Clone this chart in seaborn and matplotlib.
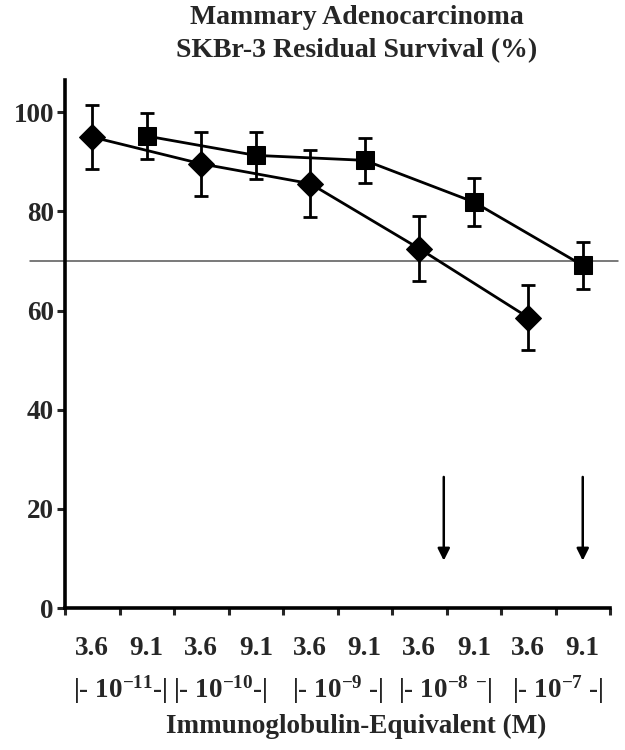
import numpy as np
import pandas as pd
import seaborn as sns
import matplotlib
matplotlib.use("Agg")
import matplotlib.pyplot as plt
import matplotlib.transforms as mtransforms

# values
conc_labels = ["3.6", "9.1", "3.6", "9.1", "3.6", "9.1", "3.6", "9.1", "3.6", "9.1"]
decade_labels = ["|- 10$^{-11}$-|", "|- 10$^{-10}$-|", "|- 10$^{-9}$ -|",
                 "|- 10$^{-8}$ $^{-}$|", "|- 10$^{-7}$ -|"]
decade_pos = [0.51, 2.35, 4.5, 6.48, 8.55]

diamond_pos = [0, 2, 4, 6, 8]
diamond_vals = [95.0, 89.6, 85.6, 72.5, 58.6]
diamond_err = [6.4, 6.5, 6.7, 6.6, 6.5]

square_pos = [1, 3, 5, 7, 9]
square_vals = [95.2, 91.3, 90.3, 81.9, 69.1]
square_err = [4.6, 4.8, 4.6, 4.9, 4.7]

threshold = 70
arrow_x = [6.45, 9.0]
arrow_top, arrow_tip = 27.0, 9.0

sns.set_style("white")
plt.rcParams["font.family"] = ["Liberation Serif", "DejaVu Serif"]
plt.rcParams["font.weight"] = "bold"
plt.rcParams["mathtext.fontset"] = "custom"
plt.rcParams["mathtext.rm"] = "Liberation Serif:bold"
plt.rcParams["mathtext.it"] = "Liberation Serif:bold"
plt.rcParams["mathtext.bf"] = "Liberation Serif:bold"
plt.rcParams["mathtext.default"] = "rm"

fig = plt.figure(figsize=(6.25, 7.5), dpi=100)
ax = fig.add_axes([0.104, 0.1893, 0.872, 0.704])

df_d = pd.DataFrame({"x": diamond_pos, "y": diamond_vals})
df_s = pd.DataFrame({"x": square_pos, "y": square_vals})

ax.errorbar(diamond_pos, diamond_vals, yerr=diamond_err, fmt="none", ecolor="black",
            elinewidth=2.0, capsize=5, capthick=2.0, zorder=2)
ax.errorbar(square_pos, square_vals, yerr=square_err, fmt="none", ecolor="black",
            elinewidth=2.0, capsize=5, capthick=2.0, zorder=2)
sns.lineplot(data=df_d, x="x", y="y", marker="D", markersize=13, color="black",
             linewidth=2.0, markeredgecolor="black", ax=ax, zorder=3)
sns.lineplot(data=df_s, x="x", y="y", marker="s", markersize=13.5, color="black",
             linewidth=2.0, markeredgecolor="black", ax=ax, zorder=3)

ax.axhline(threshold, xmin=-0.064, xmax=1.015, color="#555555", linewidth=1.1,
           clip_on=False, zorder=1)

for xa in arrow_x:
    ax.annotate("", xy=(xa, arrow_tip), xytext=(xa, arrow_top),
                arrowprops=dict(arrowstyle="-|>", color="black", lw=1.8,
                                mutation_scale=18))

ax.set_xlim(-0.5, 9.5)
ax.set_ylim(0, 106.5)
ax.set_yticks([0, 20, 40, 60, 80, 100])
ax.set_xticks(np.arange(-0.5, 10, 1.0))
ax.set_xticklabels([])
ax.set_xticks(np.arange(len(conc_labels)), minor=True)
ax.set_xticklabels(conc_labels, minor=True)
ax.tick_params(axis="x", which="major", direction="out", length=5, width=2.2, bottom=True)
ax.tick_params(axis="x", which="minor", length=0, pad=20, labelsize=19.5)
ax.tick_params(axis="y", direction="out", length=6, width=2.2, left=True,
               labelsize=19.5, pad=2)
ax.set_xlabel("")
ax.set_ylabel("")
for s in ["top", "right"]:
    ax.spines[s].set_visible(False)
for s in ["left", "bottom"]:
    ax.spines[s].set_linewidth(2.6)
    ax.spines[s].set_color("black")

trans = mtransforms.blended_transform_factory(ax.transData, fig.transFigure)
for lab, xp in zip(decade_labels, decade_pos):
    ax.text(xp, 0.08, lab, transform=trans, ha="center", va="center",
            fontsize=19.5, fontweight="bold", clip_on=False)

fig.text(0.57, 0.031, "Immunoglobulin-Equivalent (M)", ha="center", va="center",
         fontsize=19.5, fontweight="bold")
fig.text(0.571, 0.976, "Mammary Adenocarcinoma", ha="center", va="center",
         fontsize=20, fontweight="bold")
fig.text(0.571, 0.933, "SKBr-3 Residual Survival (%)", ha="center", va="center",
         fontsize=20, fontweight="bold")

fig.savefig("out.png", dpi=100, facecolor="white")
